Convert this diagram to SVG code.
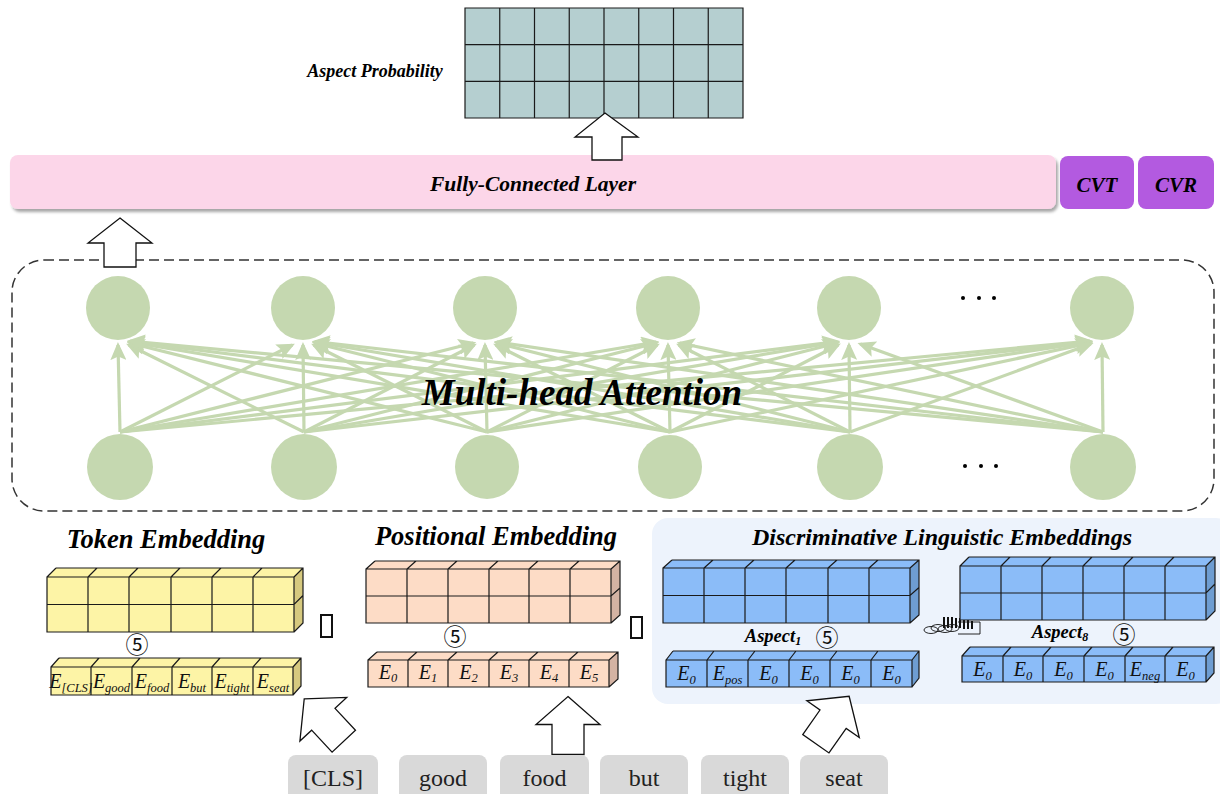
<svg xmlns="http://www.w3.org/2000/svg" width="1220" height="794" viewBox="0 0 1220 794">
  <defs>
    <style>
      .bi { font-family: "Liberation Serif", "Times New Roman", serif; font-weight: bold; font-style: italic; fill: #000; }
      .lbl { font-family: "Liberation Serif", "Times New Roman", serif; font-style: italic; font-size: 20px; fill: #111; }
      .sub { font-size: 12.5px; }
      .tok { font-family: "Liberation Serif", "Times New Roman", serif; font-size: 24px; fill: #222; text-anchor: middle; }
      .tokbox { fill: #d9d9d9; }
      .node { fill: #c5d8b0; }
      .edges line { stroke: #c5d8b0; stroke-width: 3.2; marker-end: url(#ah); }
      .grid { fill: none; stroke: #1a1a1a; stroke-width: 1.2; }
      .blkarrow { fill: #fff; stroke: #111; stroke-width: 1.3; stroke-linejoin: miter; }
      .ylw { fill: #fdf4a6; } .ylw-s { fill: #d6c97f; }
      .pch { fill: #fddcc6; } .pch-s { fill: #d4b3a3; }
      .blu { fill: #8bbcf8; } .blu-s { fill: #6e9dd2; }
      .plus { fill: none; stroke: #111; stroke-width: 2; }
      .circ { font-family: "Noto Sans CJK SC", "DejaVu Sans", sans-serif; font-size: 23px; fill: #111; text-anchor: middle; }
    </style>
    <marker id="ah" markerUnits="userSpaceOnUse" viewBox="0 0 18 16" refX="15" refY="8" markerWidth="18" markerHeight="16" orient="auto">
      <path d="M0,0 L18,8 L0,16 L3.5,8 Z" fill="#c5d8b0"/>
    </marker>
    <filter id="shadow" x="-5%" y="-30%" width="110%" height="170%">
      <feDropShadow dx="2" dy="3" stdDeviation="1.8" flood-color="#000" flood-opacity="0.35"/>
    </filter>
  </defs>

  <rect width="1220" height="794" fill="#fff"/>

  <!-- output probability grid -->
  <g id="aspect-probability">
    <rect x="465" y="8" width="278" height="110" fill="#b5cfd0"/>
    <path class="grid" d="M465,8H743V118H465Z M465,44.7H743 M465,81.3H743 M499.75,8V118 M534.5,8V118 M569.25,8V118 M604,8V118 M638.75,8V118 M673.5,8V118 M708.25,8V118"/>
    <text class="bi" x="375" y="77" font-size="18" text-anchor="middle">Aspect Probability</text>
  </g>

  <!-- fully-connected layer and the two heads -->
  <g id="fc-layer">
    <rect x="10" y="155" width="1046" height="54" rx="8" fill="#fcd6e9" filter="url(#shadow)"/>
    <text class="bi" x="533" y="191" font-size="21.5" text-anchor="middle">Fully-Connected Layer</text>
  </g>
  <g id="cvt">
    <rect x="1060" y="156" width="74" height="53" rx="8" fill="#b35ae0"/>
    <text class="bi" x="1097" y="192" font-size="21" text-anchor="middle">CVT</text>
  </g>
  <g id="cvr">
    <rect x="1138" y="156" width="76" height="53" rx="8" fill="#b35ae0"/>
    <text class="bi" x="1176" y="192" font-size="21" text-anchor="middle">CVR</text>
  </g>

  <!-- attention container -->
  <g id="attention-frame">
    <rect x="12" y="260" width="1202" height="251" rx="32" fill="none" stroke="#333" stroke-width="1.5" stroke-dasharray="10 5"/>
  </g>

  <!-- connectors: every input head feeds every output head -->
  <g id="connectors" class="edges">
    <line x1="120" y1="432" x2="118" y2="345"/>
    <line x1="304" y1="432" x2="128.8" y2="345"/>
    <line x1="487" y1="432" x2="129.6" y2="343"/>
    <line x1="670" y1="432" x2="129.8" y2="342"/>
    <line x1="850" y1="432" x2="129.9" y2="341.5"/>
    <line x1="1103" y1="432" x2="130" y2="341"/>

    <line x1="120" y1="432" x2="292.2" y2="345"/>
    <line x1="304" y1="432" x2="303" y2="345"/>
    <line x1="487" y1="432" x2="313.8" y2="345"/>
    <line x1="670" y1="432" x2="314.6" y2="343"/>
    <line x1="850" y1="432" x2="314.8" y2="342"/>
    <line x1="1103" y1="432" x2="314.9" y2="341.5"/>

    <line x1="120" y1="432" x2="473.4" y2="343"/>
    <line x1="304" y1="432" x2="474.2" y2="345"/>
    <line x1="487" y1="432" x2="485" y2="345"/>
    <line x1="670" y1="432" x2="495.8" y2="345"/>
    <line x1="850" y1="432" x2="496.6" y2="343"/>
    <line x1="1103" y1="432" x2="496.8" y2="342"/>

    <line x1="120" y1="432" x2="656.2" y2="342"/>
    <line x1="304" y1="432" x2="656.4" y2="343"/>
    <line x1="487" y1="432" x2="657.2" y2="345"/>
    <line x1="670" y1="432" x2="668" y2="345"/>
    <line x1="850" y1="432" x2="678.8" y2="345"/>
    <line x1="1103" y1="432" x2="679.6" y2="343"/>

    <line x1="120" y1="432" x2="837.1" y2="341.5"/>
    <line x1="304" y1="432" x2="837.2" y2="342"/>
    <line x1="487" y1="432" x2="837.4" y2="343"/>
    <line x1="670" y1="432" x2="838.2" y2="345"/>
    <line x1="850" y1="432" x2="849" y2="345"/>
    <line x1="1103" y1="432" x2="860.3" y2="344"/>

    <line x1="120" y1="432" x2="1090" y2="341"/>
    <line x1="304" y1="432" x2="1090.1" y2="341.5"/>
    <line x1="487" y1="432" x2="1090.2" y2="342"/>
    <line x1="670" y1="432" x2="1090.4" y2="343"/>
    <line x1="850" y1="432" x2="1090.7" y2="344"/>
    <line x1="1103" y1="432" x2="1102" y2="345"/>
  </g>

  <!-- output heads -->
  <g id="out-1"><circle class="node" cx="118" cy="308" r="32"/></g>
  <g id="out-2"><circle class="node" cx="303" cy="308" r="32"/></g>
  <g id="out-3"><circle class="node" cx="485" cy="308" r="32"/></g>
  <g id="out-4"><circle class="node" cx="668" cy="308" r="32"/></g>
  <g id="out-5"><circle class="node" cx="849" cy="308" r="32"/></g>
  <g id="out-n"><circle class="node" cx="1102" cy="308" r="32"/></g>
  <!-- input heads -->
  <g id="in-1"><circle class="node" cx="120" cy="467" r="33"/></g>
  <g id="in-2"><circle class="node" cx="304" cy="467" r="33"/></g>
  <g id="in-3"><circle class="node" cx="487" cy="467" r="32"/></g>
  <g id="in-4"><circle class="node" cx="670" cy="467" r="32"/></g>
  <g id="in-5"><circle class="node" cx="850" cy="467" r="33"/></g>
  <g id="in-n"><circle class="node" cx="1103" cy="467" r="33"/></g>

  <g id="ellipsis" fill="#000">
    <circle cx="963" cy="298" r="2"/><circle cx="979" cy="298" r="2"/><circle cx="994" cy="298" r="2"/>
    <circle cx="965" cy="466" r="2"/><circle cx="981" cy="466" r="2"/><circle cx="996" cy="466" r="2"/>
  </g>

  <text id="mha-label" class="bi" x="582" y="405" font-size="37" text-anchor="middle">Multi-head Attention</text>

  <!-- block arrows between stages -->
  <g id="arrow-to-prob">
    <path class="blkarrow" d="M605,113 L638,137 L622,137 L622,160 L592,160 L592,137 L575,137 Z"/>
  </g>
  <g id="arrow-to-fc">
    <path class="blkarrow" d="M120,218 L152,243 L136,243 L136,267 L104,267 L104,243 L88,243 Z"/>
  </g>

  <!-- token embedding -->
  <g id="token-embedding">
    <text class="bi" x="166" y="548" font-size="26.5" text-anchor="middle">Token Embedding</text>
    <polygon class="ylw" points="47,577 56,568 303,568 294,577"/>
    <polygon class="ylw-s" points="294,577 303,568 303,623 294,632"/>
    <rect class="ylw" x="47" y="577" width="247" height="55"/>
    <path class="grid" d="M47,577H294V632H47Z M56,568H303V623L294,632 M47,577L56,568 M294,577L303,568 M47,604.5H294L303,595.5 M88,577V632 M129,577V632 M171,577V632 M212,577V632 M253,577V632 M88,577l9,-9 M129,577l9,-9 M171,577l9,-9 M212,577l9,-9 M253,577l9,-9"/>
    <text class="circ" x="137" y="653">⑤</text>
    <polygon class="ylw" points="51,667 59,658 301,658 293,667"/>
    <polygon class="ylw-s" points="293,667 301,658 301,686 293,695"/>
    <rect class="ylw" x="51" y="667" width="242" height="28"/>
    <path class="grid" d="M51,667H293V695H51Z M59,658H301V686L293,695 M51,667L59,658 M293,667L301,658 M91,667V695 M132,667V695 M172,667V695 M212,667V695 M253,667V695 M91,667l8,-9 M132,667l8,-9 M172,667l8,-9 M212,667l8,-9 M253,667l8,-9"/>
    <text class="lbl" x="71" y="688" text-anchor="middle">E<tspan class="sub" dy="4">[CLS]</tspan></text>
    <text class="lbl" x="111.5" y="688" text-anchor="middle">E<tspan class="sub" dy="4">good</tspan></text>
    <text class="lbl" x="152" y="688" text-anchor="middle">E<tspan class="sub" dy="4">food</tspan></text>
    <text class="lbl" x="192" y="688" text-anchor="middle">E<tspan class="sub" dy="4">but</tspan></text>
    <text class="lbl" x="232" y="688" text-anchor="middle">E<tspan class="sub" dy="4">tight</tspan></text>
    <text class="lbl" x="273" y="688" text-anchor="middle">E<tspan class="sub" dy="4">seat</tspan></text>
  </g>

  <rect class="plus" x="321" y="615" width="11" height="22"/>

  <!-- positional embedding -->
  <g id="positional-embedding">
    <text class="bi" x="496" y="545" font-size="26.5" text-anchor="middle">Positional Embedding</text>
    <polygon class="pch" points="366,569 375,561 620,561 611,569"/>
    <polygon class="pch-s" points="611,569 620,561 620,615 611,623"/>
    <rect class="pch" x="366" y="569" width="245" height="54"/>
    <path class="grid" d="M366,569H611V623H366Z M375,561H620V615L611,623 M366,569L375,561 M611,569L620,561 M366,596H611L620,588 M407,569V623 M448,569V623 M489,569V623 M529,569V623 M570,569V623 M407,569l9,-8 M448,569l9,-8 M489,569l9,-8 M529,569l9,-8 M570,569l9,-8"/>
    <text class="circ" x="455" y="645">⑤</text>
    <polygon class="pch" points="368,660 377,652 618,652 609,660"/>
    <polygon class="pch-s" points="609,660 618,652 618,679 609,687"/>
    <rect class="pch" x="368" y="660" width="241" height="27"/>
    <path class="grid" d="M368,660H609V687H368Z M377,652H618V679L609,687 M368,660L377,652 M609,660L618,652 M408,660V687 M448,660V687 M489,660V687 M529,660V687 M569,660V687 M408,660l9,-8 M448,660l9,-8 M489,660l9,-8 M529,660l9,-8 M569,660l9,-8"/>
    <text class="lbl" x="388" y="679" text-anchor="middle">E<tspan class="sub" dy="3">0</tspan></text>
    <text class="lbl" x="428" y="679" text-anchor="middle">E<tspan class="sub" dy="3">1</tspan></text>
    <text class="lbl" x="468.5" y="679" text-anchor="middle">E<tspan class="sub" dy="3">2</tspan></text>
    <text class="lbl" x="509" y="679" text-anchor="middle">E<tspan class="sub" dy="3">3</tspan></text>
    <text class="lbl" x="549" y="679" text-anchor="middle">E<tspan class="sub" dy="3">4</tspan></text>
    <text class="lbl" x="589" y="679" text-anchor="middle">E<tspan class="sub" dy="3">5</tspan></text>
  </g>

  <rect class="plus" x="631" y="617" width="11" height="21"/>

  <!-- discriminative linguistic embeddings -->
  <g id="linguistic-embeddings">
    <rect x="652" y="518" width="580" height="186" rx="16" fill="#edf3fc"/>
    <text class="bi" x="942" y="545" font-size="24" text-anchor="middle">Discriminative Linguistic Embeddings</text>
  </g>

  <g id="aspect-1">
    <polygon class="blu" points="663,568 672,560 919,560 910,568"/>
    <polygon class="blu-s" points="910,568 919,560 919,615 910,623"/>
    <rect class="blu" x="663" y="568" width="247" height="55"/>
    <path class="grid" d="M663,568H910V623H663Z M672,560H919V615L910,623 M663,568L672,560 M910,568L919,560 M663,595.5H910L919,587.5 M704,568V623 M745,568V623 M786,568V623 M828,568V623 M869,568V623 M704,568l9,-8 M745,568l9,-8 M786,568l9,-8 M828,568l9,-8 M869,568l9,-8"/>
    <text class="bi" x="773" y="642" font-size="18.5" text-anchor="middle">Aspect<tspan font-size="12" dy="3">1</tspan></text>
    <text class="circ" x="827" y="646">⑤</text>
    <polygon class="blu" points="666,660 673,651 919,651 912,660"/>
    <polygon class="blu-s" points="912,660 919,651 919,678 912,687"/>
    <rect class="blu" x="666" y="660" width="246" height="27"/>
    <path class="grid" d="M666,660H912V687H666Z M673,651H919V678L912,687 M666,660L673,651 M912,660L919,651 M707,660V687 M748,660V687 M789,660V687 M830,660V687 M871,660V687 M707,660l7,-9 M748,660l7,-9 M789,660l7,-9 M830,660l7,-9 M871,660l7,-9"/>
    <text class="lbl" x="686.5" y="680" text-anchor="middle">E<tspan class="sub" dy="4">0</tspan></text>
    <text class="lbl" x="727.5" y="680" text-anchor="middle">E<tspan class="sub" dy="4">pos</tspan></text>
    <text class="lbl" x="768.5" y="680" text-anchor="middle">E<tspan class="sub" dy="4">0</tspan></text>
    <text class="lbl" x="809.5" y="680" text-anchor="middle">E<tspan class="sub" dy="4">0</tspan></text>
    <text class="lbl" x="850.5" y="680" text-anchor="middle">E<tspan class="sub" dy="4">0</tspan></text>
    <text class="lbl" x="891.5" y="680" text-anchor="middle">E<tspan class="sub" dy="4">0</tspan></text>
  </g>

  <!-- stacked-aspect scribble -->
  <g id="aspect-stack" fill="none" stroke="#111" stroke-width="0.9">
    <ellipse cx="931" cy="630" rx="7" ry="3.5"/>
    <ellipse cx="938" cy="628" rx="7" ry="3.5"/>
    <ellipse cx="945" cy="629" rx="7" ry="3.5"/>
    <ellipse cx="952" cy="628" rx="7" ry="3.5"/>
    <path d="M958,622H980V634H958" />
    <g fill="#111" stroke="none">
      <rect x="943" y="617" width="2" height="11"/>
      <rect x="947" y="617" width="2" height="11"/>
      <rect x="951" y="617" width="2" height="11"/>
      <rect x="955" y="618" width="2" height="10"/>
      <rect x="959" y="618" width="2" height="10"/>
      <rect x="963" y="619" width="2" height="10"/>
      <rect x="967" y="620" width="2" height="9"/>
      <rect x="971" y="621" width="2" height="8"/>
    </g>
  </g>

  <g id="aspect-8">
    <polygon class="blu" points="960,566 969,557 1215,557 1206,566"/>
    <polygon class="blu-s" points="1206,566 1215,557 1215,611 1206,620"/>
    <rect class="blu" x="960" y="566" width="246" height="54"/>
    <path class="grid" d="M960,566H1206V620H960Z M969,557H1215V611L1206,620 M960,566L969,557 M1206,566L1215,557 M960,593H1206L1215,584 M1001,566V620 M1042,566V620 M1083,566V620 M1124,566V620 M1165,566V620 M1001,566l9,-9 M1042,566l9,-9 M1083,566l9,-9 M1124,566l9,-9 M1165,566l9,-9"/>
    <text class="bi" x="1060" y="638" font-size="18.5" text-anchor="middle">Aspect<tspan font-size="12" dy="3">8</tspan></text>
    <text class="circ" x="1124" y="643">⑤</text>
    <polygon class="blu" points="962,656 970,647 1214,647 1206,656"/>
    <polygon class="blu-s" points="1206,656 1214,647 1214,673 1206,682"/>
    <rect class="blu" x="962" y="656" width="244" height="26"/>
    <path class="grid" d="M962,656H1206V682H962Z M970,647H1214V673L1206,682 M962,656L970,647 M1206,656L1214,647 M1003,656V682 M1043,656V682 M1084,656V682 M1125,656V682 M1165,656V682 M1003,656l8,-9 M1043,656l8,-9 M1084,656l8,-9 M1125,656l8,-9 M1165,656l8,-9"/>
    <text class="lbl" x="982.5" y="676" text-anchor="middle">E<tspan class="sub" dy="4">0</tspan></text>
    <text class="lbl" x="1023" y="676" text-anchor="middle">E<tspan class="sub" dy="4">0</tspan></text>
    <text class="lbl" x="1063.5" y="676" text-anchor="middle">E<tspan class="sub" dy="4">0</tspan></text>
    <text class="lbl" x="1104.5" y="676" text-anchor="middle">E<tspan class="sub" dy="4">0</tspan></text>
    <text class="lbl" x="1145" y="676" text-anchor="middle">E<tspan class="sub" dy="4">neg</tspan></text>
    <text class="lbl" x="1185.5" y="676" text-anchor="middle">E<tspan class="sub" dy="4">0</tspan></text>
  </g>

  <!-- arrows from the input words into each embedding -->
  <g id="arrow-to-token">
    <path class="blkarrow" transform="translate(324,720) rotate(-43)" d="M0,-29 L32,-1 L16,-1 L16,29 L-16,29 L-16,-1 L-32,-1 Z"/>
  </g>
  <g id="arrow-to-positional">
    <path class="blkarrow" transform="translate(568,725.5)" d="M0,-29 L32,-1 L16,-1 L16,29 L-16,29 L-16,-1 L-32,-1 Z"/>
  </g>
  <g id="arrow-to-linguistic">
    <path class="blkarrow" transform="translate(832.5,720) rotate(35)" d="M0,-29 L32,-1 L16,-1 L16,29 L-16,29 L-16,-1 L-32,-1 Z"/>
  </g>

  <!-- input words -->
  <g id="word-cls"><rect class="tokbox" x="288" y="755" width="90" height="50" rx="8"/><text class="tok" x="333" y="786">[CLS]</text></g>
  <g id="word-good"><rect class="tokbox" x="399" y="755" width="88" height="50" rx="8"/><text class="tok" x="443" y="786">good</text></g>
  <g id="word-food"><rect class="tokbox" x="500" y="755" width="89" height="50" rx="8"/><text class="tok" x="544.5" y="786">food</text></g>
  <g id="word-but"><rect class="tokbox" x="600" y="755" width="88" height="50" rx="8"/><text class="tok" x="644" y="786">but</text></g>
  <g id="word-tight"><rect class="tokbox" x="701" y="755" width="88" height="50" rx="8"/><text class="tok" x="745" y="786">tight</text></g>
  <g id="word-seat"><rect class="tokbox" x="800" y="755" width="88" height="50" rx="8"/><text class="tok" x="844" y="786">seat</text></g>
</svg>
